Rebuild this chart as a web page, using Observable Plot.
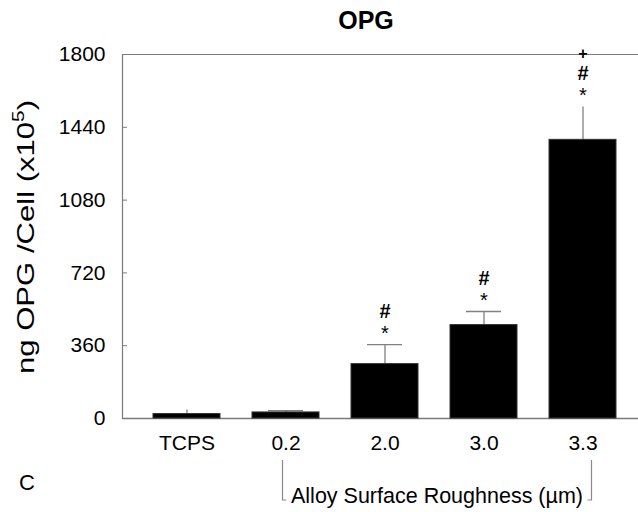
<!DOCTYPE html>
<html>
<head>
<meta charset="utf-8">
<script src="https://cdn.jsdelivr.net/npm/d3@7"></script>
<script src="https://cdn.jsdelivr.net/npm/@observablehq/plot@0.6"></script>
<style>
  html, body { margin: 0; padding: 0; background: #fff; }
  #chart svg { display: block; }
</style>
</head>
<body>
<div id="chart"></div>
<script>
// ---- data ----
const categories = ["TCPS", "0.2", "2.0", "3.0", "3.3"];
const means = [22, 30, 269, 462, 1378];
const errors = [20, 9, 96, 67, 162];
const yTicks = [0, 360, 720, 1080, 1440, 1800];
const capped = ["0.2", "2.0", "3.0"];
const starMarks = ["2.0", "3.0", "3.3"];
const hashMarks = ["2.0", "3.0", "3.3"];
const plusMarks = ["3.3"];
const titleText = "OPG";
const yLabelMain = "ng OPG /Cell (x10";
const yLabelSup = "5";
const xGroupLabel = "Alloy Surface Roughness (µm)";
const panelLetter = "C";

const rows = categories.map((c, i) => ({cat: c, mean: means[i], top: means[i] + errors[i]}));
const topOf = Object.fromEntries(rows.map(r => [r.cat, r.top]));

const font = "'Liberation Sans', Arial, Helvetica, sans-serif";
const axisGray = "#7a7a7a";

const plot = Plot.plot({
  width: 638,
  height: 512,
  marginLeft: 122,
  marginRight: 0,
  marginTop: 54,
  marginBottom: 94,
  style: {fontFamily: font, background: "#fff", overflow: "visible"},
  x: {domain: categories, range: [122, 647], paddingInner: 0.328, paddingOuter: 0.306},
  y: {domain: [0, 1800]},
  marks: [
    Plot.ruleY([1800], {stroke: axisGray, strokeWidth: 1.2}),
    Plot.ruleY([0], {stroke: axisGray, strokeWidth: 1.5}),
    Plot.frame({anchor: "left", stroke: axisGray, strokeWidth: 1.2}),
    Plot.ruleX(rows, {x: "cat", y1: "mean", y2: "top", stroke: "#808080", strokeWidth: 1.3}),
    Plot.tickY(rows.filter(r => capped.includes(r.cat)), {x: "cat", y: "top", stroke: "#808080", strokeWidth: 1.3, insetLeft: 16, insetRight: 16}),
    Plot.barY(rows, {x: "cat", y: "mean", fill: "#000", stroke: "#333", strokeWidth: 1}),
    Plot.text(starMarks, {x: d => d, y: d => topOf[d], text: () => "*", dy: -11, fontSize: 20, fill: "#000"}),
    Plot.text(hashMarks, {x: d => d, y: d => topOf[d], text: () => "#", dy: -33, fontSize: 20, fontWeight: "bold", fill: "#000"}),
    Plot.text(plusMarks, {x: d => d, y: d => topOf[d], text: () => "+", dy: -53, fontSize: 16, fontWeight: "bold", fill: "#000"}),
    Plot.axisY({ticks: yTicks, tickFormat: d => String(d), tickSize: -5, tickPadding: 22, fontSize: 21, stroke: axisGray, color: "#000", label: null}),
    Plot.axisX({tickSize: 0, tickPadding: 17, fontSize: 21, color: "#000", label: null})
  ]
});

document.getElementById("chart").appendChild(plot);

const svg = d3.select(plot);
const xs = plot.scale("x");
const bw = xs.bandwidth;
const cx = c => xs.apply(c) + bw / 2;

// title
svg.append("text")
  .attr("x", 366).attr("y", 29)
  .attr("text-anchor", "middle")
  .attr("font-family", font).attr("font-size", 25).attr("font-weight", "bold")
  .attr("fill", "#000")
  .text(titleText);

// y label
const yl = svg.append("text")
  .attr("transform", "translate(34,237) rotate(-90)")
  .attr("text-anchor", "middle")
  .attr("font-family", font).attr("font-size", 24)
  .attr("textLength", 274).attr("lengthAdjust", "spacingAndGlyphs")
  .attr("fill", "#000");
yl.append("tspan").text(yLabelMain);
yl.append("tspan").attr("font-size", 16).attr("dy", -10).text(yLabelSup);
yl.append("tspan").attr("dy", 10).text(")");

// panel letter
svg.append("text")
  .attr("x", 27).attr("y", 490)
  .attr("text-anchor", "middle")
  .attr("font-family", font).attr("font-size", 22)
  .attr("fill", "#000")
  .text(panelLetter);

// bracket
const xl = cx("0.2") - 3;
const xr = cx("3.3") + 9;
const bracket = svg.append("g").attr("stroke", "#8a8a8a").attr("stroke-width", 1.2).attr("fill", "none");
bracket.append("path").attr("d", `M${xl},460V500H${xl + 4}`);
bracket.append("path").attr("d", `M${xr},460V500H${xr - 4}`);
svg.append("text")
  .attr("x", (xl + xr) / 2).attr("y", 503)
  .attr("text-anchor", "middle")
  .attr("font-family", font).attr("font-size", 21.5)
  .attr("fill", "#000")
  .text(xGroupLabel);
</script>
</body>
</html>
